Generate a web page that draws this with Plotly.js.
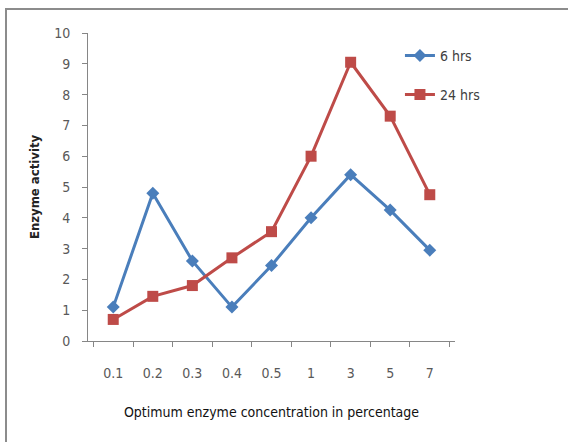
<!DOCTYPE html>
<html>
<head>
<meta charset="utf-8">
<script src="https://cdn.plot.ly/plotly-3.0.1.min.js"></script>
<style>
  html, body { margin: 0; padding: 0; background: #fff; }
  #chart { position: absolute; left: 0; top: 0; width: 568px; height: 442px; }
  #frame { position: absolute; left: 5px; top: 8px; width: 570px; height: 440px;
           border-left: 2px solid #8c8c8c; border-top: 2px solid #8c8c8c; pointer-events: none; }
</style>
</head>
<body>
<div id="chart"></div>
<div id="frame"></div>
<script>
const categories = ["0.1", "0.2", "0.3", "0.4", "0.5", "1", "3", "5", "7"];
const series6hrs = [1.1, 4.8, 2.6, 1.1, 2.45, 4.0, 5.4, 4.25, 2.95];
const series24hrs = [0.7, 1.45, 1.8, 2.7, 3.55, 6.0, 9.05, 7.3, 4.75];
const seriesNames = ["6 hrs", "24 hrs"];

const fontFam = '"DejaVu Sans Condensed", "DejaVu Sans", sans-serif';

const traces = [
  {
    x: categories, y: series6hrs, name: seriesNames[0], type: 'scatter', mode: 'lines+markers',
    legendgroup: 'a',
    line: { color: '#4a7ebb', width: 3 },
    marker: { symbol: 'diamond', size: 10, color: '#4a7ebb' }
  },
  {
    x: categories, y: series24hrs, name: seriesNames[1], type: 'scatter', mode: 'lines+markers',
    legendgroup: 'b',
    line: { color: '#be4b48', width: 3 },
    marker: { symbol: 'square', size: 11, color: '#be4b48' }
  }
];

const layout = {
  width: 568, height: 442,
  margin: { l: 88, r: 113, t: 33, b: 101 },
  paper_bgcolor: '#fff', plot_bgcolor: '#fff',
  font: { family: fontFam, size: 13, color: '#595959' },
  showlegend: true,
  legend: {
    x: 0.85, y: 0.978, xanchor: 'left', yanchor: 'top',
    font: { family: fontFam, size: 14, color: '#404040' },
    tracegroupgap: 18, itemwidth: 30, bgcolor: 'rgba(0,0,0,0)'
  },
  xaxis: {
    type: 'category',
    showline: true, linecolor: '#868686', linewidth: 1,
    ticks: 'outside', tickson: 'boundaries', ticklen: 5, tickcolor: '#868686',
    showgrid: false, zeroline: false,
    ticklabelstandoff: 19,
    tickfont: { family: fontFam, size: 14, color: '#595959' },
    title: { text: 'Optimum enzyme concentration in percentage', standoff: 27,
             font: { family: fontFam, size: 14, color: '#111' } }
  },
  yaxis: {
    range: [0, 10], dtick: 1, tick0: 0,
    showline: true, linecolor: '#868686', linewidth: 1,
    ticks: 'outside', ticklen: 5, tickcolor: '#868686',
    showgrid: false, zeroline: false,
    ticklabelstandoff: 9,
    tickfont: { family: fontFam, size: 14, color: '#595959' },
    title: { text: '<b>Enzyme activity</b>', standoff: 11,
             font: { family: fontFam, size: 13, color: '#222' } }
  }
};

Plotly.newPlot('chart', traces, layout, { staticPlot: true, displayModeBar: false });
</script>
</body>
</html>
